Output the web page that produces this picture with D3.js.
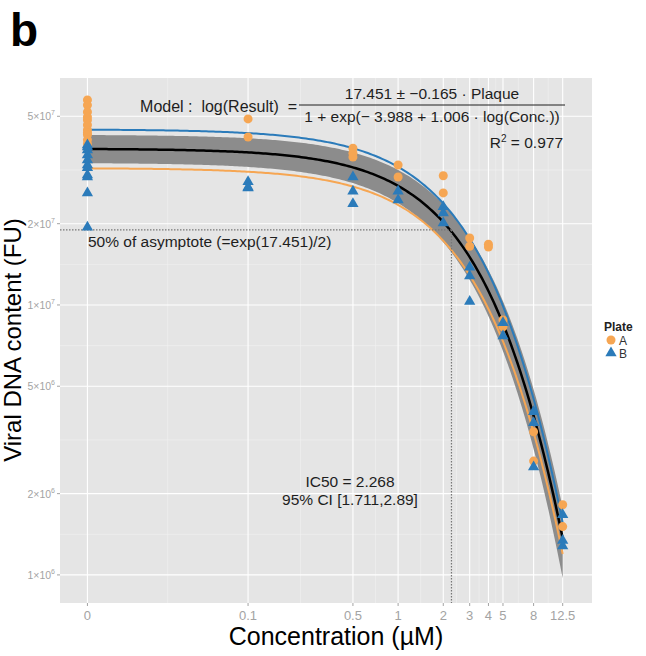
<!DOCTYPE html>
<html>
<head>
<meta charset="utf-8">
<script src="https://cdn.jsdelivr.net/npm/d3@7"></script>
<style>
  body { margin: 0; background: #fff; }
  text { font-family: "Liberation Sans", Arial, sans-serif; }
</style>
</head>
<body>
<svg id="chart" width="646" height="656"></svg>
<script>
// tick values
const xTicks = [0, 0.1, 0.5, 1, 2, 3, 4, 5, 8, 12.5];
const yTicks = [1e6, 2e6, 5e6, 1e7, 2e7, 5e7];
const yTickMant = [1, 2, 5, 1, 2, 5];
const yTickExp = [6, 6, 6, 7, 7, 7];

// plate A (orange dots)
const concA = [0, 0, 0, 0, 0, 0, 0, 0, 0, 0, 0,
  0.1, 0.1, 0.5, 0.5, 0.5, 1, 1, 2, 2, 3, 3, 4, 4, 5, 5, 8, 8, 12.5, 12.5];
const valueA = [5.75e7, 5.5e7, 5.19e7, 4.97e7, 4.84e7, 4.64e7, 4.45e7, 4.34e7, 4.27e7, 4.09e7, 3.95e7,
  4.89e7, 4.19e7, 3.81e7, 3.65e7, 3.53e7, 3.30e7, 2.98e7, 3.01e7, 2.60e7, 1.77e7, 1.65e7,
  1.68e7, 1.64e7, 8.8e6, 8.3e6, 3.39e6, 2.64e6, 1.82e6, 1.51e6];

// plate B (blue triangles)
const concB = [0, 0, 0, 0, 0, 0, 0, 0, 0, 0, 0,
  0.1, 0.1, 0.1, 0.5, 0.5, 0.5, 1, 1, 2, 2, 2, 3, 3, 3, 5, 5, 8, 8, 8, 12.5, 12.5, 12.5];
const valueB = [3.91e7, 3.85e7, 3.75e7, 3.59e7, 3.44e7, 3.30e7, 3.22e7, 3.03e7, 2.98e7, 2.60e7, 1.94e7,
  2.86e7, 2.71e7, 2.73e7, 2.98e7, 2.64e7, 2.37e7, 2.64e7, 2.45e7, 2.31e7, 2.19e7, 2.01e7,
  1.38e7, 1.28e7, 1.03e7, 8.6e6, 7.67e6, 4.02e6, 3.66e6, 2.51e6, 1.67e6, 1.34e6, 1.28e6];

// fitted model: log(Result) = asym / (1 + exp(b0 + b1*log(conc)))
const asym = 17.451, plateEff = 0.165, b0 = -3.988, b1 = 1.006;
const bandHi = [17.57, -4.05];   // [asym, b0] upper band
const bandLo = [17.33, -3.90];   // [asym, b0] lower band
const ic50 = 2.268;
const ci95 = [1.711, 2.89];
const r2 = 0.977;

const zeroAt = 0.0085; // where conc 0 sits on the log axis

const orange = "#f6a653", blue = "#2b7bba";
const svg = d3.select("#chart");

const panel = {left: 60, right: 592, top: 78, bottom: 603};
const x = d3.scaleLog().domain([0.00558, 19.6]).range([panel.left, panel.right]);
const y = d3.scaleLog().domain([7.87e5, 6.93e7]).range([panel.bottom, panel.top]);
const xc = c => x(c === 0 ? zeroAt : c);

// panel
svg.append("rect")
  .attr("x", panel.left).attr("y", panel.top)
  .attr("width", panel.right - panel.left).attr("height", panel.bottom - panel.top)
  .attr("fill", "#e5e5e5");

const grid = svg.append("g");
// minor grid, midway in log space
const xPos = xTicks.map(xc);
for (let i = 0; i < xPos.length - 1; i++) {
  const m = (xPos[i] + xPos[i + 1]) / 2;
  grid.append("line").attr("x1", m).attr("x2", m).attr("y1", panel.top).attr("y2", panel.bottom)
    .attr("stroke", "#f2f2f2").attr("stroke-width", 0.6);
}
const yPos = yTicks.map(y);
for (let i = 0; i < yPos.length - 1; i++) {
  const m = (yPos[i] + yPos[i + 1]) / 2;
  grid.append("line").attr("y1", m).attr("y2", m).attr("x1", panel.left).attr("x2", panel.right)
    .attr("stroke", "#f2f2f2").attr("stroke-width", 0.6);
}
grid.selectAll(".vx").data(xTicks).enter().append("line")
  .attr("x1", xc).attr("x2", xc).attr("y1", panel.top).attr("y2", panel.bottom)
  .attr("stroke", "#fff").attr("stroke-width", 1.1);
grid.selectAll(".hy").data(yTicks).enter().append("line")
  .attr("y1", y).attr("y2", y).attr("x1", panel.left).attr("x2", panel.right)
  .attr("stroke", "#fff").attr("stroke-width", 1.1);

// axes ticks + labels
const tickCol = "#a3a3a3";
svg.selectAll(".xt").data(xTicks).enter().append("line")
  .attr("x1", xc).attr("x2", xc).attr("y1", panel.bottom).attr("y2", panel.bottom + 3)
  .attr("stroke", tickCol);
svg.selectAll(".xl").data(xTicks).enter().append("text")
  .attr("x", xc).attr("y", panel.bottom + 17)
  .attr("text-anchor", "middle").attr("font-size", 13).attr("fill", tickCol)
  .text(d => d);
svg.selectAll(".yt").data(yTicks).enter().append("line")
  .attr("y1", y).attr("y2", y).attr("x1", panel.left - 3).attr("x2", panel.left)
  .attr("stroke", tickCol);
const yl = svg.selectAll(".yl").data(yTicks).enter().append("text")
  .attr("x", panel.left - 5).attr("y", d => y(d) + 4)
  .attr("text-anchor", "end").attr("font-size", 10.5).attr("fill", tickCol);
yl.append("tspan").text((d, i) => yTickMant[i] + "\u00d710");
yl.append("tspan").attr("dy", -5).attr("font-size", 7).text((d, i) => yTickExp[i]);

// model curves
const model = (c, a, k0) => Math.exp(a / (1 + Math.exp(k0 + b1 * Math.log(c))));
const xs = d3.range(0, 201).map(i => xc(0) + (xc(12.5) - xc(0)) * i / 200);
const cs = xs.map(px => x.invert(px));

const area = d3.area().x((d, i) => xs[i])
  .y0(c => y(model(c, bandLo[0], bandLo[1])))
  .y1(c => y(model(c, bandHi[0], bandHi[1])));
svg.append("path").attr("d", area(cs)).attr("fill", "#8c8c8c");

const line = (a, k0) => d3.line().x((d, i) => xs[i]).y(c => y(model(c, a, k0)))(cs);
svg.append("path").attr("d", line(asym - plateEff, b0))
  .attr("fill", "none").attr("stroke", orange).attr("stroke-width", 2);
svg.append("path").attr("d", line(asym + plateEff, b0))
  .attr("fill", "none").attr("stroke", blue).attr("stroke-width", 2);
svg.append("path").attr("d", line(asym, b0))
  .attr("fill", "none").attr("stroke", "#000").attr("stroke-width", 2.5);

// 50% asymptote reference lines
const half = Math.exp(asym) / 2;
svg.append("line").attr("x1", panel.left).attr("x2", x(ic50)).attr("y1", y(half)).attr("y2", y(half))
  .attr("stroke", "#777").attr("stroke-width", 1.2).attr("stroke-dasharray", "1.5,1.5");
svg.append("line").attr("x1", x(ic50)).attr("x2", x(ic50)).attr("y1", y(half)).attr("y2", panel.bottom)
  .attr("stroke", "#777").attr("stroke-width", 1.2).attr("stroke-dasharray", "1.5,1.5");

// points
svg.append("g").selectAll("circle").data(valueA).enter().append("circle")
  .attr("cx", (d, i) => xc(concA[i])).attr("cy", d => y(d)).attr("r", 4.5)
  .attr("fill", orange);
const tri = d3.symbol().type(d3.symbolTriangle).size(55);
svg.append("g").selectAll("path").data(valueB).enter().append("path")
  .attr("d", tri)
  .attr("transform", (d, i) => `translate(${xc(concB[i])},${y(d)})`)
  .attr("fill", blue);

// annotations
const ink = "#1e1e1e";
svg.append("text").attr("x", 297).attr("y", 112).attr("text-anchor", "end")
  .attr("font-size", 16).attr("fill", ink).attr("xml:space", "preserve")
  .text("Model :  log(Result)  =");
svg.append("text").attr("x", 432).attr("y", 99).attr("text-anchor", "middle")
  .attr("font-size", 15.5).attr("fill", ink)
  .text(`${asym} \u00b1 \u2212${plateEff} \u00b7 Plaque`);
svg.append("line").attr("x1", 299).attr("x2", 565).attr("y1", 105).attr("y2", 105)
  .attr("stroke", ink).attr("stroke-width", 1);
svg.append("text").attr("x", 432).attr("y", 122).attr("text-anchor", "middle")
  .attr("font-size", 15.5).attr("fill", ink)
  .text(`1 + exp(\u2212 ${-b0} + ${b1} \u00b7 log(Conc.))`);
const r2t = svg.append("text").attr("x", 563).attr("y", 148).attr("text-anchor", "end")
  .attr("font-size", 15.5).attr("fill", ink);
r2t.append("tspan").text("R");
r2t.append("tspan").attr("dy", -6).attr("font-size", 10).text("2");
r2t.append("tspan").attr("dy", 6).text(` = ${r2}`);

svg.append("text").attr("x", 88).attr("y", 247).attr("font-size", 15.5).attr("fill", ink)
  .text(`50% of asymptote (=exp(${asym})/2)`);
svg.append("text").attr("x", 350).attr("y", 487).attr("text-anchor", "middle")
  .attr("font-size", 15.5).attr("fill", ink).text(`IC50 = ${ic50}`);
svg.append("text").attr("x", 350).attr("y", 505).attr("text-anchor", "middle")
  .attr("font-size", 15.5).attr("fill", ink).text(`95% CI [${ci95[0]},${ci95[1]}]`);

// axis titles
svg.append("text").attr("x", 336).attr("y", 645).attr("text-anchor", "middle")
  .attr("font-size", 25).attr("fill", "#000").text("Concentration (\u00b5M)");
svg.append("text").attr("transform", "translate(21,340) rotate(-90)")
  .attr("text-anchor", "middle").attr("font-size", 24).attr("fill", "#000")
  .text("Viral DNA content (FU)");

// panel letter
svg.append("text").attr("x", 10).attr("y", 46).attr("font-size", 46)
  .attr("font-weight", "bold").attr("fill", "#000").text("b");

// legend
const lg = svg.append("g");
lg.append("text").attr("x", 604).attr("y", 331).attr("font-size", 12).attr("font-weight", "bold")
  .attr("fill", "#222").text("Plate");
lg.append("circle").attr("cx", 611).attr("cy", 340).attr("r", 4.5).attr("fill", orange);
lg.append("path").attr("d", tri).attr("transform", "translate(611,353)").attr("fill", blue);
lg.append("text").attr("x", 619).attr("y", 345).attr("font-size", 12).attr("fill", "#333").text("A");
lg.append("text").attr("x", 619).attr("y", 358).attr("font-size", 12).attr("fill", "#333").text("B");
</script>
</body>
</html>
